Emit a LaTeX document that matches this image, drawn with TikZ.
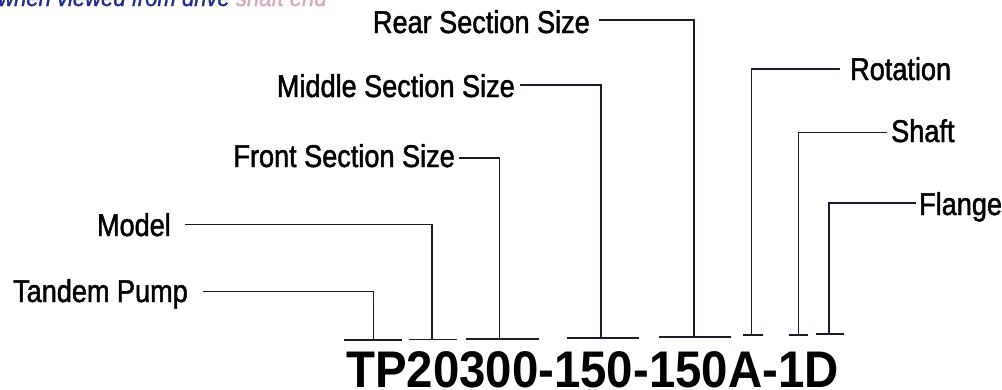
\documentclass[tikz,border=0pt]{standalone}
\usepackage{fontspec}
\setmainfont{Liberation Sans}
\newfontfamily\labfont[FakeStretch=0.86,FakeBold=1.5]{Liberation Sans}
\newfontfamily\codefont[FakeStretch=0.92]{Liberation Sans}
\newfontfamily\notefont[FakeStretch=0.9,FakeBold=1.5]{Liberation Sans}
\definecolor{inkline}{RGB}{30,25,45}
\definecolor{noteblue}{RGB}{35,45,140}
\definecolor{notepink}{RGB}{215,170,190}
\begin{document}
\begin{tikzpicture}[x=1pt,y=-1pt,
  lab/.style={inner sep=0pt,font=\labfont\fontsize{31.5}{32}\selectfont},
  lead/.style={draw=inkline,line width=1.4pt},
  uline/.style={draw=inkline,line width=1.6pt}]
\useasboundingbox (0,0) rectangle (1002,389);
% partially visible note at top
\node[inner sep=0pt,anchor=base west,text=noteblue,font=\notefont\itshape\fontsize{24.5}{25}\selectfont] (note) at (-2,6) {when viewed from drive \textcolor{notepink}{shaft end}};
% labels
\node[lab,anchor=base east] (rear) at (590,33) {Rear Section Size};
\node[lab,anchor=base east] (mid) at (515,97) {Middle Section Size};
\node[lab,anchor=base east] (front) at (455,167) {Front Section Size};
\node[lab,anchor=base east] (model) at (171,236) {Model};
\node[lab,anchor=base east] (tandem) at (188,302) {Tandem Pump};
\node[lab,anchor=base west] (rot) at (850,80) {Rotation};
\node[lab,anchor=base west] (shaft) at (891,142) {Shaft};
\node[lab,anchor=base west] (flange) at (919,215) {Flange};
% code
\node[inner sep=0pt,anchor=base west,font=\codefont\bfseries\fontsize{51.5}{52}\selectfont] (code) at (346,387.5) {TP20300-150-150A-1D};
% underline junctions
\coordinate (j1) at (373.5,340);
\coordinate (j2) at (432,339.5);
\coordinate (j3) at (499.5,339);
\coordinate (j4) at (601,338);
\coordinate (j5) at (694,337);
\coordinate (j6) at (751.5,335);
\coordinate (j7) at (798.5,335);
\coordinate (j8) at (829,334);
% underlines
\draw[uline] (344,340) -- (402,340);
\draw[uline] (409,339.5) -- (457,339.5);
\draw[uline] (466,339) -- (539,339);
\draw[uline] (567,338) -- (639,338);
\draw[uline] (659,337) -- (731,337);
\draw[uline] (743,335) -- (763,335);
\draw[uline] (789,335) -- (808,335);
\draw[uline] (816,334) -- (844,334);
% leaders
\draw[lead] ([xshift=9pt,yshift=13pt]rear.base east) -| (j5);
\draw[lead] ([xshift=5pt,yshift=12pt]mid.base east) -| (j4);
\draw[lead] ([xshift=4pt,yshift=9pt]front.base east) -| (j3);
\draw[lead] ([xshift=14pt,yshift=11.3pt]model.base east) -| (j2);
\draw[lead] ([xshift=15pt,yshift=10.3pt]tandem.base east) -| (j1);
\draw[lead] ([xshift=-10pt,yshift=11pt]rot.base west) -| (j6);
\draw[lead] ([xshift=-4pt,yshift=9.3pt]shaft.base west) -| (j7);
\draw[lead] ([xshift=-3pt,yshift=12pt]flange.base west) -| (j8);
\end{tikzpicture}
\end{document}
